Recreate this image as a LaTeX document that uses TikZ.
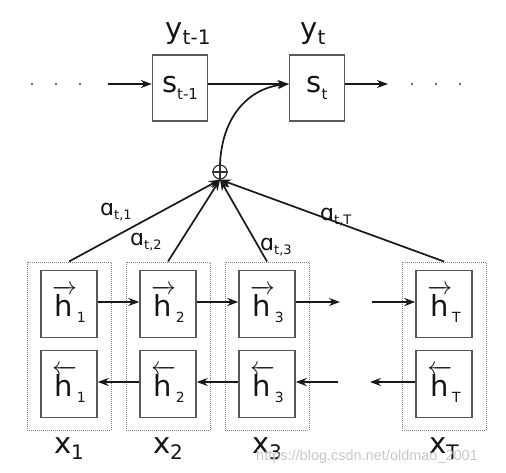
\documentclass[tikz,border=0pt]{standalone}
\usepackage{fontspec}
\usepackage{amsmath}
\setmainfont{DejaVu Sans}
\newfontfamily\markfont{Liberation Sans}
\usetikzlibrary{arrows.meta}
% small lowered index in a given size
\newcommand{\idx}[2]{\raisebox{-0.22em}{\fontsize{#1}{#1}\selectfont #2}}
\newcommand{\fw}{$\overrightarrow{\text{h}\kern1pt}$}
\newcommand{\bw}{$\overleftarrow{\text{h}\kern1pt}$}
\begin{document}
\begin{tikzpicture}[
        x = 1pt, y = -1pt,
        every node/.style = {text = black!92, font = \fontsize{29}{31}\selectfont},
        cell/.style = {draw = black!65, line width = 1.4pt, minimum width = 56pt, minimum height = 67pt, inner sep = 0pt},
        group/.style = {draw = black!50, densely dotted, line width = 1pt, minimum width = 84pt, minimum height = 168pt, inner sep = 0pt},
        link/.style = {draw = black!90, line width = 1.7pt, -{Stealth[length=11pt,width=8pt]}},
        wt/.style = {font = \fontsize{22}{24}\selectfont, anchor = base west, inner sep = 0pt}
    ]
    \useasboundingbox (0,0) rectangle (506,472);

    % decoder states
    \node[cell, minimum width = 55pt, minimum height = 66pt] (s1) at (180,88) {s\idx{15}{t-1}};
    \node[cell, minimum width = 55pt, minimum height = 66pt] (s2) at (317,88) {s\idx{15}{t}};
    \node[anchor = base, inner sep = 0pt] (y1) at (188,38) {y\idx{20}{t-1}};
    \node[anchor = base, inner sep = 0pt] (y2) at (313,38) {y\idx{20}{t}};

    \foreach \x in {32,56,80,412,436,460}
        \fill[black!60] (\x,84) circle (1.3pt);
    \coordinate (din) at (108,84);
    \coordinate (dout) at (388,84);
    \draw[link] (din) -- ([yshift=4pt]s1.west);
    \draw[link] ([yshift=4pt]s1.east) -- ([yshift=4pt]s2.west);
    \draw[link] ([yshift=4pt]s2.east) -- (dout);

    % attention sum
    \node[circle, draw = black!80, line width = 1.2pt, minimum size = 14pt, inner sep = 0pt] (op) at (220,172) {};
    \draw[black!80, line width = 1.2pt] (op.north) -- (op.south);
    \draw[black!80, line width = 1.2pt] (op.west) -- (op.east);
    \draw[link] (op.north) .. controls (222,115) and (250,88) .. ([yshift=4pt]s2.west);

    % encoder columns
    \foreach \n/\x/\t in {1/69/1, 2/168/2, 3/267/3, 4/444/T} {
        \node[group] (g\n) at (\x,346) {};
        \node[cell] (f\n) at (\x,304) {\fw\idx{14}{\t}};
        \node[cell] (b\n) at (\x,384) {\bw\idx{14}{\t}};
        \node[anchor = base, inner sep = 0pt] (x\n) at (\x,453) {x\idx{20}{\t}};
        \draw[link] (g\n.north) -- (op.south);
    }

    \coordinate (fa) at (340,302);
    \coordinate (fb) at (372,302);
    \coordinate (ba) at (338,382);
    \coordinate (bb) at (370,382);
    \draw[link] ([yshift=2pt]f1.east) -- ([yshift=2pt]f2.west);
    \draw[link] ([yshift=2pt]f2.east) -- ([yshift=2pt]f3.west);
    \draw[link] ([yshift=2pt]f3.east) -- (fa);
    \draw[link] (fb) -- ([yshift=2pt]f4.west);
    \draw[link] ([yshift=2pt]b2.west) -- ([yshift=2pt]b1.east);
    \draw[link] ([yshift=2pt]b3.west) -- ([yshift=2pt]b2.east);
    \draw[link] (ba) -- ([yshift=2pt]b3.east);
    \draw[link] ([yshift=2pt]b4.west) -- (bb);

    % weights
    \node[wt] (w1) at (100,215) {ɑ\idx{13}{t,1}};
    \node[wt] (w2) at (130,245) {ɑ\idx{13}{t,2}};
    \node[wt] (w3) at (260,250) {ɑ\idx{13}{t,3}};
    \node[wt] (w4) at (320,220) {ɑ\idx{13}{t,T}};

    \node[anchor = base west, inner sep = 0pt, text = black!22, font = \markfont\fontsize{14.5}{16}\selectfont] (mark) at (256,460) {https://blog.csdn.net/oldmao\_2001};
\end{tikzpicture}
\end{document}
